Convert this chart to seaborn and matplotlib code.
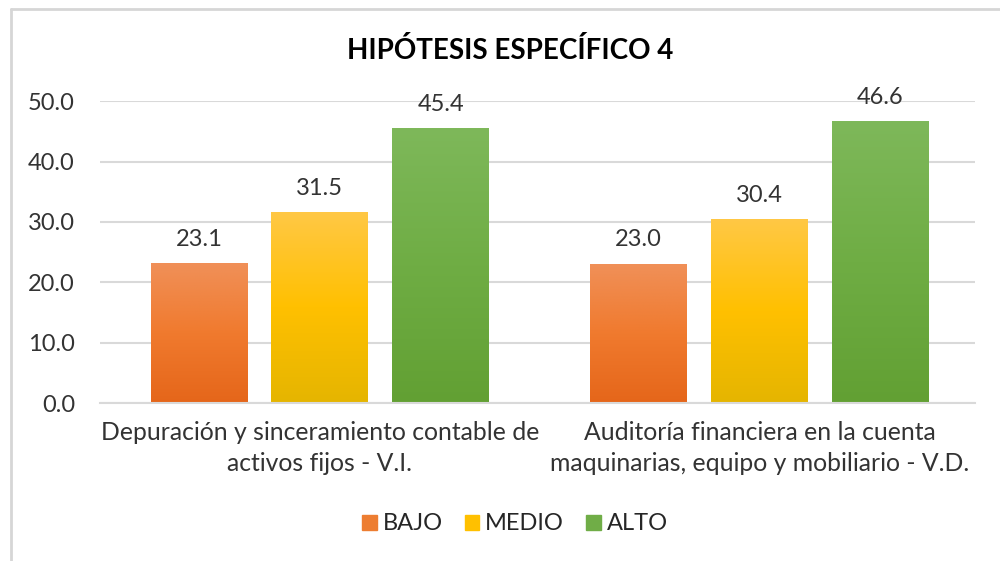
import matplotlib
matplotlib.use("Agg")
import matplotlib.pyplot as plt
import matplotlib.patches as mpatches
from matplotlib.lines import Line2D
from matplotlib.colors import LinearSegmentedColormap
import numpy as np
import pandas as pd
import seaborn as sns

# datos
categorias = ["Depuración y sinceramiento contable de\nactivos fijos - V.I.",
              "Auditoría financiera en la cuenta\nmaquinarias, equipo y mobiliario - V.D."]
niveles = ["BAJO", "MEDIO", "ALTO"]
bajo = [23.1, 23.0]
medio = [31.5, 30.4]
alto = [45.4, 46.6]

df = pd.DataFrame({
    "categoria": categorias * 3,
    "nivel": ["BAJO"] * 2 + ["MEDIO"] * 2 + ["ALTO"] * 2,
    "valor": bajo + medio + alto,
})

colores = {"BAJO": "#ED7D31", "MEDIO": "#FFC000", "ALTO": "#70AD47"}
# degradados (arriba -> abajo)
degradados = {
    "BAJO": ["#F09058", "#F07A2E", "#E5661A"],
    "MEDIO": ["#FFC845", "#FFC000", "#E5B500"],
    "ALTO": ["#7EB85A", "#6FAD44", "#62A033"],
}

sns.set_theme(style="white")
plt.rcParams["font.family"] = ["Lato", "DejaVu Sans"]

fig = plt.figure(figsize=(10, 5.61), dpi=100)
ax = fig.add_axes([0.1, 0.2816, 0.875, 0.538])

sns.barplot(data=df, x="categoria", y="valor", hue="nivel", hue_order=niveles,
            palette=colores, width=0.825, gap=0.2, ax=ax, legend=False,
            edgecolor="none")

ax.set_ylim(0, 50)
ax.set_xlim(-0.5, 1.49)
ax.set_yticks(np.arange(0, 51, 10))
ax.set_yticklabels([f"{v:.1f}" for v in np.arange(0, 51, 10)], fontsize=17, color="#333333")
ax.tick_params(axis="x", labelsize=17.8, colors="#333333", pad=13, length=0)
ax.tick_params(axis="y", length=0, pad=18)
ax.set_xlabel("")
ax.set_ylabel("")
ax.yaxis.grid(True, color="#D9D9D9", linewidth=1.5)
ax.set_axisbelow(True)
for s in ["top", "right", "left"]:
    ax.spines[s].set_visible(False)
ax.spines["bottom"].set_color("#D9D9D9")
ax.spines["bottom"].set_linewidth(1.5)

# degradado en cada barra + etiquetas
for cont, nivel in zip(ax.containers, niveles):
    cmap = LinearSegmentedColormap.from_list(nivel, degradados[nivel][::-1])
    for bar in cont:
        x0, y0 = bar.get_x(), bar.get_y()
        w, h = bar.get_width(), bar.get_height()
        grad = np.linspace(0, 1, 256).reshape(-1, 1)
        ax.imshow(grad, cmap=cmap, origin="lower", aspect="auto",
                  extent=[x0, x0 + w, y0, y0 + h], zorder=bar.get_zorder() + 0.1)
    ax.bar_label(cont, fmt="%.1f", padding=10, fontsize=17, color="#333333")
ax.set_xlim(-0.5, 1.49)
ax.set_ylim(0, 50)

for lbl in ax.get_xticklabels():
    lbl.set_ha("center")
    lbl.set_multialignment("center")
    lbl.set_linespacing(1.4)

handles = [mpatches.Patch(color=colores[n], label=n) for n in niveles]
fig.legend(handles=handles, loc="center", bbox_to_anchor=(0.515, 0.066), ncol=3,
           frameon=False, fontsize=17, handlelength=0.6, handleheight=0.6,
           handletextpad=0.25, columnspacing=0.95)

fig.text(0.51, 0.91, "HIPÓTESIS ESPECÍFICO 4", ha="center", va="center",
         fontsize=20, fontweight="bold", color="#000000")

# borde superior e izquierdo del recuadro
fig.add_artist(Line2D([0.011, 1.0], [0.984, 0.984], transform=fig.transFigure,
                      color="#D6D6D6", linewidth=2))
fig.add_artist(Line2D([0.011, 0.011], [0.0, 0.984], transform=fig.transFigure,
                      color="#D6D6D6", linewidth=2))

fig.savefig("out.png", dpi=100, facecolor="white")
